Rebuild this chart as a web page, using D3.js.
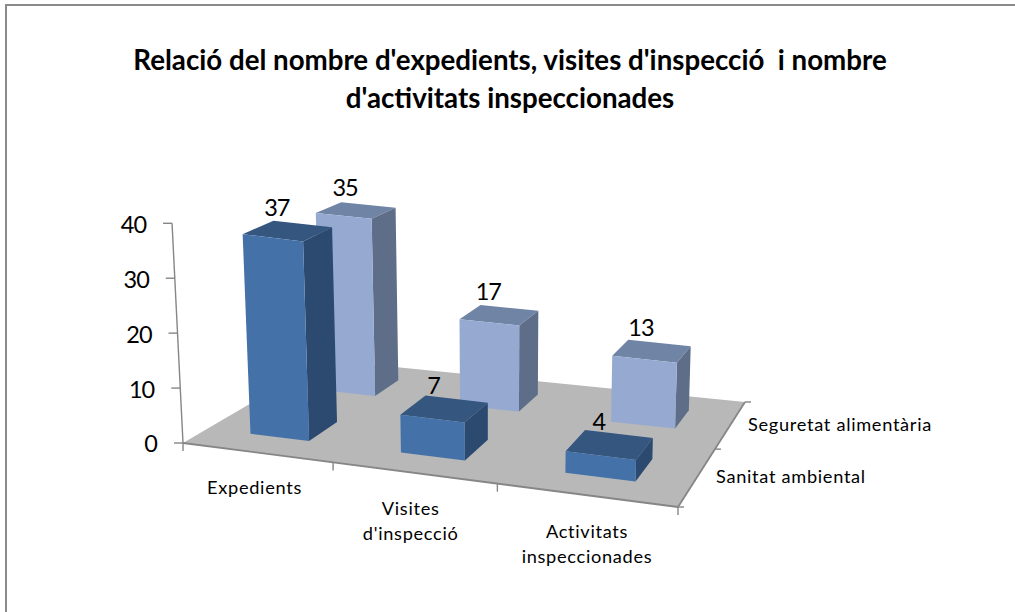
<!DOCTYPE html>
<html><head><meta charset="utf-8">
<script src="https://cdn.jsdelivr.net/npm/d3@7"></script>
<style>html,body{margin:0;background:#fff}svg{display:block}text{font-family:Lato,"Open Sans",sans-serif;fill:#000}</style>
</head><body><svg id="c" width="1015" height="612"></svg>
<script>
const titleLines = ["Relació del nombre d'expedients, visites d'inspecció  i nombre", "d'activitats inspeccionades"];
const categories = ["Expedients", "Visites d'inspecció", "Activitats inspeccionades"];
const categoryLines = [["Expedients"], ["Visites", "d'inspecció"], ["Activitats", "inspeccionades"]];
const seriesNames = ["Sanitat ambiental", "Seguretat alimentària"];
const sanitat = [37, 7, 4];
const seguretat = [35, 17, 13];
const tickValues = [0, 10, 20, 30, 40];
const seriesValues = [sanitat, seguretat];
const palette = [
  {front:"#4472A8", top:"#34567F", side:"#2C4A70"},
  {front:"#95A9D1", top:"#7084A5", side:"#5E6E89"}
];

const svg = d3.select("#c");
// frame (top and left only)
svg.append("path").attr("d","M6,612V5H1015").attr("fill","none").attr("stroke","#8a8a8a").attr("stroke-width",2);

// floor quad -> screen homography
const Q = [[183,443],[678,507],[745,402],[325,360]];
function homography(q){
  const [[x0,y0],[x1,y1],[x2,y2],[x3,y3]] = q;
  const dx1=x1-x2, dx2=x3-x2, sx=x0-x1+x2-x3, dy1=y1-y2, dy2=y3-y2, sy=y0-y1+y2-y3;
  const den=dx1*dy2-dx2*dy1;
  const g=(sx*dy2-dx2*sy)/den, h=(dx1*sy-sx*dy1)/den;
  const a=x1-x0+g*x1, b=x3-x0+h*x3, d=y1-y0+g*y1, e=y3-y0+h*y3;
  return (u,v)=>{const w=g*u+h*v+1;return [(a*u+b*v+x0)/w,(d*u+e*v+y0)/w];};
}
const floor = homography(Q);
const vanish = [500,6800];
const yScale = d3.scaleLinear().domain([0,40]).range([0,1]);
const depthHeight = d3.scaleLinear().domain([0,1]).range([220,193]);
const xBand = d3.scaleBand().domain(categories).range([0,1]).paddingInner(0.6).paddingOuter(0.3);
const zBand = d3.scaleBand().domain(seriesNames).range([0,1]).paddingInner(0.6).paddingOuter(0.3);
function project(u,v,val){
  const [bx,by]=floor(u,v);
  const h=yScale(val)*depthHeight(v);
  const len=Math.hypot(bx-vanish[0],by-vanish[1]);
  return [bx+(bx-vanish[0])/len*h, by+(by-vanish[1])/len*h];
}
const poly = pts => "M"+pts.map(p=>p.map(n=>n.toFixed(2)).join(",")).join("L")+"Z";

// floor
svg.append("path").attr("d",poly(Q)).attr("fill","#B8B8B8");
const axisCol="#868686";
const seg=(a,b,w=1.4)=>svg.append("line").attr("x1",a[0]).attr("y1",a[1]).attr("x2",b[0]).attr("y2",b[1]).attr("stroke",axisCol).attr("stroke-width",w);
seg(Q[0],Q[1],1.8); seg(Q[1],Q[2],1.8);
seg(project(0,0,0),project(0,0,40));

// value axis
tickValues.forEach(t=>{
  const p=project(0,0,t);
  seg([p[0]-9,p[1]],p);
  svg.append("text").attr("x",p[0]-26).attr("y",p[1]+1).attr("dy","0.36em").attr("text-anchor","end")
    .attr("font-size",23.5).attr("letter-spacing",-1).text(t);
});
// category ticks and labels
const catLabelPos=[[254.5,487],[410.7,508],[587,531]];
[0,1,2,3].forEach(i=>{const p=floor(i/3,0);seg(p,[p[0],p[1]+8]);});
categories.forEach((c,i)=>{
  categoryLines[i].forEach((l,j)=>svg.append("text").attr("x",catLabelPos[i][0]).attr("y",catLabelPos[i][1]+j*25.5)
    .attr("dy","0.36em").attr("text-anchor","middle").attr("font-size",18.2).attr("letter-spacing",0.7).text(l));
});
// series ticks and labels
[0,0.5,1].forEach(v=>{const p=floor(1,v);seg(p,[p[0]+6,p[1]]);});
const serLabelPos=[[716,476],[748,424]];
seriesNames.forEach((s,i)=>svg.append("text").attr("x",serLabelPos[i][0]).attr("y",serLabelPos[i][1])
  .attr("dy","0.36em").attr("font-size",18.2).attr("letter-spacing",0.7).text(s));

// bars back to front
[1,0].forEach(si=>{
  const name=seriesNames[si], col=palette[si];
  const v0=zBand(name), v1=v0+zBand.bandwidth();
  categories.forEach((c,ci)=>{
    const val=seriesValues[si][ci];
    const u0=xBand(c), u1=u0+xBand.bandwidth();
    const g=svg.append("g");
    g.append("path").attr("d",poly([project(u0,v0,val),project(u1,v0,val),project(u1,v1,val),project(u0,v1,val)])).attr("fill",col.top);
    g.append("path").attr("d",poly([project(u1,v0,0),project(u1,v1,0),project(u1,v1,val),project(u1,v0,val)])).attr("fill",col.side);
    g.append("path").attr("d",poly([project(u0,v0,0),project(u1,v0,0),project(u1,v0,val),project(u0,v0,val)])).attr("fill",col.front);
  });
});
// value labels
[1,0].forEach(si=>{
  const name=seriesNames[si];
  const vm=zBand(name)+zBand.bandwidth()/2;
  categories.forEach(c=>{
    const val=seriesValues[si][categories.indexOf(c)];
    const p=project(xBand(c)+xBand.bandwidth()/2,vm,val);
    svg.append("text").attr("x",p[0]-11).attr("y",p[1]-23).attr("dy","0.36em").attr("text-anchor","middle")
      .attr("font-size",23.5).attr("letter-spacing",-1).text(val);
  });
});
// title
titleLines.forEach((l,i)=>svg.append("text").attr("x",510).attr("y",60+i*38).attr("dy","0.36em").attr("text-anchor","middle")
  .attr("font-size",27.7).attr("font-weight",700).style("white-space","pre").attr("xml:space","preserve").text(l));
</script></body></html>
